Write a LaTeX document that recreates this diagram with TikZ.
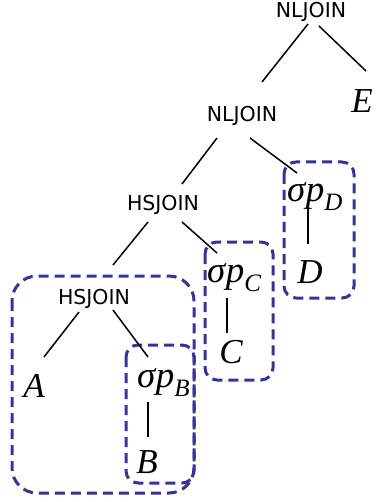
\documentclass[tikz,border=0pt]{standalone}
\usepackage{fontspec}
\usepackage{xcolor}
\usepackage{tikz}
\usetikzlibrary{calc,backgrounds}
\setsansfont{DejaVu Sans}
\newfontfamily\letterfont{Liberation Serif}
\definecolor{groupblue}{RGB}{51,51,153}
\tikzstyle{op} = [inner sep=0pt, anchor=base,
    font=\sffamily\fontsize{20.5}{21}\selectfont]
\tikzstyle{rel} = [inner sep=0pt, anchor=base,
    font=\letterfont\itshape\fontsize{35}{35}\selectfont]
\tikzstyle{sel} = [rel, anchor=base west, font=\letterfont\itshape\fontsize{37}{37}\selectfont]
\tikzstyle{edge} = [line width=1.5pt]
\tikzstyle{group} = [draw=groupblue, line width=3pt, dash pattern=on 10pt off 6pt]
\newcommand{\sigp}[1]{σ\kern0.5pt p\raisebox{-9pt}{\fontsize{25}{25}\selectfont #1}}

\begin{document}
\begin{tikzpicture}[x=1pt,y=-1pt]
\useasboundingbox (0,0) rectangle (375,502);

% ── Join operators ────
\node[op] (nltop) at (311,18) {NLJOIN};
\node[op] (nlmid) at (242,122) {NLJOIN};
\node[op] (hsmid) at (163,211) {HSJOIN};
\node[op] (hslow) at (94,304) {HSJOIN};

% ── Selections ────
\node[sel] (selD) at (287,202) {\sigp{D}};
\node[sel] (selC) at (207,282) {\sigp{C}};
\node[sel] (selB) at (137,387) {\sigp{B}};

% ── Relations ────
\node[rel] (relA) at (34,397) {A};
\node[rel] (relB) at (147,473) {B};
\node[rel] (relC) at (231,363) {C};
\node[rel] (relD) at (310,283) {D};
\node[rel] (relE) at (362,113) {E};

% ── Edges ────
\draw[edge] ($(nltop.base)+(-3,6)$) -- ($(nlmid.base)+(20,-40)$);
\draw[edge] ($(nltop.base)+(8,8)$) -- ($(relE.base)+(4,-42)$);
\draw[edge] ($(nlmid.base)+(-25,16)$) -- ($(hsmid.base)+(19,-27)$);
\draw[edge] ($(nlmid.base)+(8,16)$) -- ($(selD.base west)+(10,-29)$);
\draw[edge] ($(hsmid.base)+(-15,11)$) -- ($(hslow.base)+(19,-39)$);
\draw[edge] ($(hsmid.base)+(19,11)$) -- ($(selC.base west)+(10,-29)$);
\draw[edge] ($(hslow.base)+(-15,8)$) -- ($(relA.base)+(10,-40)$);
\draw[edge] ($(hslow.base)+(19,6)$) -- ($(selB.base west)+(11,-30)$);
\draw[edge] ($(selD.base west)+(21,6)$) -- ($(relD.base)+(-2,-39)$);
\draw[edge] ($(selC.base west)+(20,16)$) -- ($(relC.base)+(-4,-30)$);
\draw[edge] ($(selB.base west)+(11,15)$) -- ($(relB.base)+(1,-36)$);

% ── Dashed groups ────
\begin{scope}[on background layer]
\draw[group, rounded corners=25pt] (12,276) rectangle (194,493);
\draw[group, rounded corners=12pt] (126,345) rectangle (194,483);
\draw[group, rounded corners=12pt] (205,242) rectangle (273,380);
\draw[group, rounded corners=12pt] (284,162) rectangle (354,298);
\end{scope}

\end{tikzpicture}
\end{document}
